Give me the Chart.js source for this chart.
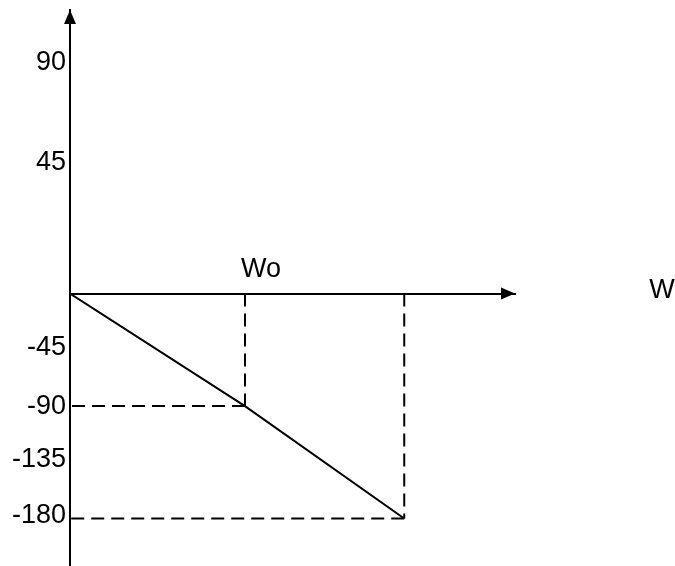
<!DOCTYPE html>
<html>
<head>
<meta charset="utf-8">
<script src="https://cdn.jsdelivr.net/npm/chart.js@4/dist/chart.umd.min.js"></script>
<style>
  body { margin: 0; background: #fff; }
  #wrap { width: 675px; height: 566px; }
</style>
</head>
<body>
<div id="wrap"><canvas id="phaseChart" width="675" height="566"></canvas></div>
<script>
// Phase line (x in units of Wo, y in degrees)
const phaseX = [0, 1, 1.91];
const phaseY = [0, -90, -180];

// Tick labels on the vertical axis and where they sit (degrees)
const yTickAt = [185, 105, -43, -90, -133, -178];
const yTickText = ['90', '45', '-45', '-90', '-135', '-180'];

// Axis names
const xMarkAt = [1];
const xMarkText = ['Wo'];
const xAxisName = 'W';

const FONT = '"Liberation Sans", Arial, sans-serif';

const linePoints = phaseX.map((x, i) => ({ x: x, y: phaseY[i] }));

// dashed guides from each marked point to both axes
const guides = [];
for (let i = 1; i < phaseX.length; i++) {
  guides.push([{ x: phaseX[i], y: 0 }, { x: phaseX[i], y: phaseY[i] }]);
  guides.push([{ x: phaseX[i], y: phaseY[i] }, { x: 0, y: phaseY[i] }]);
}

const datasets = [{
  data: linePoints,
  borderColor: '#000',
  borderWidth: 2,
  pointRadius: 0,
  showLine: true
}];
guides.forEach(g => datasets.push({
  data: g,
  borderColor: '#000',
  borderWidth: 2,
  borderDash: [13, 7],
  pointRadius: 0,
  showLine: true
}));

// arrows and axis texts
const extras = {
  id: 'extras',
  afterDraw(chart) {
    const ctx = chart.ctx;
    const area = chart.chartArea;
    const xs = chart.scales.x;
    const ys = chart.scales.y;
    const y0 = ys.getPixelForValue(0);
    ctx.save();
    ctx.fillStyle = '#000';
    // up arrow
    ctx.beginPath();
    ctx.moveTo(area.left, area.top);
    ctx.lineTo(area.left - 6, area.top + 14);
    ctx.lineTo(area.left + 6, area.top + 14);
    ctx.closePath();
    ctx.fill();
    // right arrow
    ctx.beginPath();
    ctx.moveTo(area.right, y0);
    ctx.lineTo(area.right - 14, y0 - 6);
    ctx.lineTo(area.right - 14, y0 + 6);
    ctx.closePath();
    ctx.fill();

    ctx.font = '27px ' + FONT;
    ctx.textAlign = 'center';
    ctx.textBaseline = 'middle';
    xMarkAt.forEach((v, i) => {
      ctx.fillText(xMarkText[i], xs.getPixelForValue(v) + 16, y0 - 24);
    });
    ctx.fillText(xAxisName, area.right + 147, y0 - 3);
    ctx.restore();
  }
};

new Chart(document.getElementById('phaseChart'), {
  type: 'scatter',
  data: { datasets: datasets },
  options: {
    responsive: false,
    animation: false,
    layout: { padding: { left: 0, right: 160, top: 10, bottom: 0 } },
    plugins: { legend: { display: false }, tooltip: { enabled: false } },
    scales: {
      x: {
        type: 'linear',
        min: 0,
        max: 2.543,
        position: { y: 0 },
        grid: { display: false },
        border: { display: true, color: '#000', width: 2 },
        ticks: { display: false }
      },
      y: {
        type: 'linear',
        min: -218,
        max: 227,
        grid: { display: false, drawTicks: false },
        border: { display: true, color: '#000', width: 2 },
        afterFit(scale) {
          scale.width = 70;
          scale.paddingTop = 0;
          scale.paddingBottom = 0;
        },
        afterBuildTicks(scale) {
          scale.ticks = yTickAt.map(v => ({ value: v }));
        },
        ticks: {
          color: '#000',
          padding: 4,
          font: { family: FONT, size: 27 },
          callback: (v) => yTickText[yTickAt.indexOf(v)]
        }
      }
    }
  },
  plugins: [extras]
});
</script>
</body>
</html>
